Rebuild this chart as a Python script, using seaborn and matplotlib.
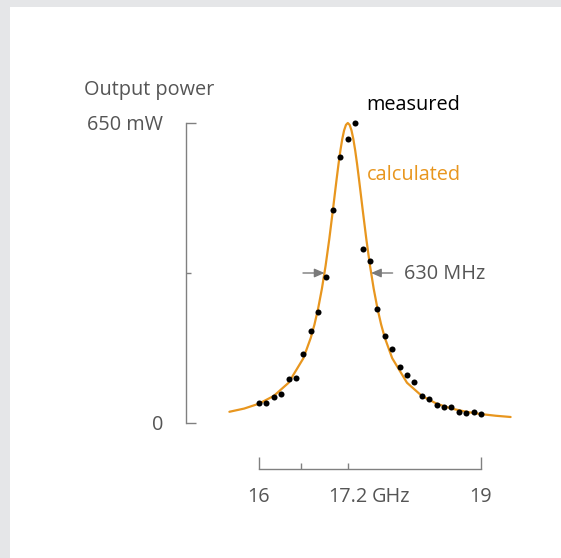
import numpy as np
import pandas as pd
import matplotlib
matplotlib.use("Agg")
import matplotlib.pyplot as plt
import seaborn as sns
from matplotlib.patches import Rectangle

# ---- data ----
measured_freq = [16.0, 16.1, 16.2, 16.3, 16.4, 16.5, 16.6, 16.7, 16.8, 16.9,
                 17.0, 17.1, 17.2, 17.3, 17.4, 17.5, 17.6, 17.7, 17.8, 17.9,
                 18.0, 18.1, 18.2, 18.3, 18.4, 18.5, 18.6, 18.7, 18.8, 18.9, 19.0]
measured_power = [42.6, 42.6, 57.0, 62.1, 94.6, 97.5, 149.5, 199.3, 241.2, 317.0,
                  461.5, 576.3, 614.6, 650.7, 376.3, 350.3, 247.0, 188.5, 160.3, 120.6,
                  103.3, 88.8, 58.5, 51.3, 39.0, 35.4, 35.4, 23.8, 22.4, 24.5, 19.5]

calc_freq = [15.6, 15.8, 16.0, 16.2, 16.4, 16.6, 16.7, 16.75, 16.8, 16.85, 16.9, 16.95,
             17.0, 17.025, 17.05, 17.075, 17.1, 17.125, 17.15, 17.175, 17.2,
             17.225, 17.25, 17.275, 17.3, 17.325, 17.35, 17.375, 17.4, 17.45,
             17.5, 17.55, 17.6, 17.65, 17.7, 17.8, 18.0, 18.2, 18.4, 18.6, 18.8,
             19.0, 19.2, 19.4]
calc_power = [24.3, 31.3, 41.9, 58.7, 87.2, 140.4, 184.7, 213.7, 248.8, 290.9, 340.8, 398.8,
              463.3, 496.7, 529.8, 561.6, 590.5, 615.1, 634.0, 645.9, 650.0,
              645.9, 634.0, 615.1, 590.5, 561.6, 529.8, 496.7, 463.3, 398.8,
              340.8, 290.9, 248.8, 213.7, 184.7, 140.4, 87.2, 58.7, 41.9, 31.3, 24.3,
              19.3, 15.7, 13.0]

x_major = [16, 19]
x_major_labels = ["16", "19"]
x_minor = [16.57, 17.2]
x_minor_labels = ["", "17.2"]
y_major = [0, 650]
y_major_labels = ["0", "650 mW"]
y_minor = [325]
fwhm_left, fwhm_right, half_max = 16.885, 17.515, 325
fwhm_label = "630 MHz"

ORANGE = "#E8961E"
GRAY = "#808080"
TEXT = "#555555"
FS = 14.3

sns.set_theme(style="white")
plt.rcParams["font.family"] = ["Open Sans", "DejaVu Sans"]

W, H = 561, 558
fig = plt.figure(figsize=(W / 100, H / 100), dpi=100)
fig.patch.set_facecolor("#E5E6E8")
fig.add_artist(Rectangle((10 / W, 0), 1, 1 - 7 / H, transform=fig.transFigure,
                         facecolor="white", edgecolor="none", zorder=0))

ax = fig.add_axes([229.4 / W, 135 / H, 281.2 / W, 300 / H])
ax.set_facecolor("none")

calc_df = pd.DataFrame({"freq": calc_freq, "power": calc_power})
meas_df = pd.DataFrame({"freq": measured_freq, "power": measured_power})
sns.lineplot(data=calc_df, x="freq", y="power", ax=ax, color=ORANGE, lw=1.6,
             zorder=2, clip_on=False)
sns.scatterplot(data=meas_df, x="freq", y="power", ax=ax, color="black", s=19,
                linewidth=0, zorder=3, clip_on=False)

ax.set_xlim(15.6, 19.4)
ax.set_ylim(0, 650)
ax.set_xlabel("")
ax.set_ylabel("")

ax.set_xticks(x_major)
ax.set_xticklabels(x_major_labels)
ax.set_xticks(x_minor, minor=True)
ax.set_xticklabels(x_minor_labels, minor=True)
ax.set_yticks(y_major)
ax.set_yticklabels(y_major_labels)
ax.set_yticks(y_minor, minor=True)

sns.despine(ax=ax, offset={"left": 31.2, "bottom": 33.1}, trim=True)
for s in ("left", "bottom"):
    ax.spines[s].set_color(GRAY)
    ax.spines[s].set_linewidth(1.0)

ax.tick_params(axis="x", which="major", direction="in", length=8.4, width=1.0,
               color=GRAY, pad=13.0, labelsize=FS, labelcolor=TEXT, bottom=True)
ax.tick_params(axis="x", which="minor", direction="in", length=4.3, width=1.0,
               color=GRAY, pad=13.0, labelsize=FS, labelcolor=TEXT, bottom=True)
ax.tick_params(axis="y", which="major", direction="in", length=7.5, width=1.0,
               color=GRAY, pad=16.5, labelsize=FS, labelcolor=TEXT, left=True)
ax.tick_params(axis="y", which="minor", direction="in", length=3.6, width=1.0,
               color=GRAY, left=True)

# " GHz" after the 17.2 label
ax.annotate("GHz", xy=(17.2, 0), xycoords=("data", "axes fraction"),
            xytext=(17.3, -33.1 - 13.0), textcoords="offset points",
            ha="left", va="top", fontsize=FS, color=TEXT)

# axis title
fig.text(84 / W, 1 - 90 / H, "Output power", ha="left", va="center",
         fontsize=FS, color=TEXT)

# series labels
ax.annotate("measured", xy=(17.2, 650), xytext=(366.7 - 347.8, 18),
            textcoords="offset pixels", ha="left", va="center",
            fontsize=FS, color="black")
ax.annotate("calculated", xy=(17.2, 650), xytext=(366.7 - 347.8, -52),
            textcoords="offset pixels", ha="left", va="center",
            fontsize=FS, color=ORANGE)

# FWHM arrows
arrow_kw = dict(arrowstyle="-|>,head_length=0.5,head_width=0.22", color="#7a7a7a", lw=1.0,
                shrinkA=0, shrinkB=0)
ax.annotate("", xy=(fwhm_left, half_max), xytext=(-21.5, 0), textcoords="offset pixels",
            arrowprops=arrow_kw)
ax.annotate("", xy=(fwhm_right, half_max), xytext=(21.5, 0), textcoords="offset pixels",
            arrowprops=arrow_kw)
ax.annotate(fwhm_label, xy=(fwhm_right, half_max), xytext=(33, -1),
            textcoords="offset pixels", ha="left", va="center",
            fontsize=FS, color=TEXT)

fig.savefig("out.png", dpi=100)
